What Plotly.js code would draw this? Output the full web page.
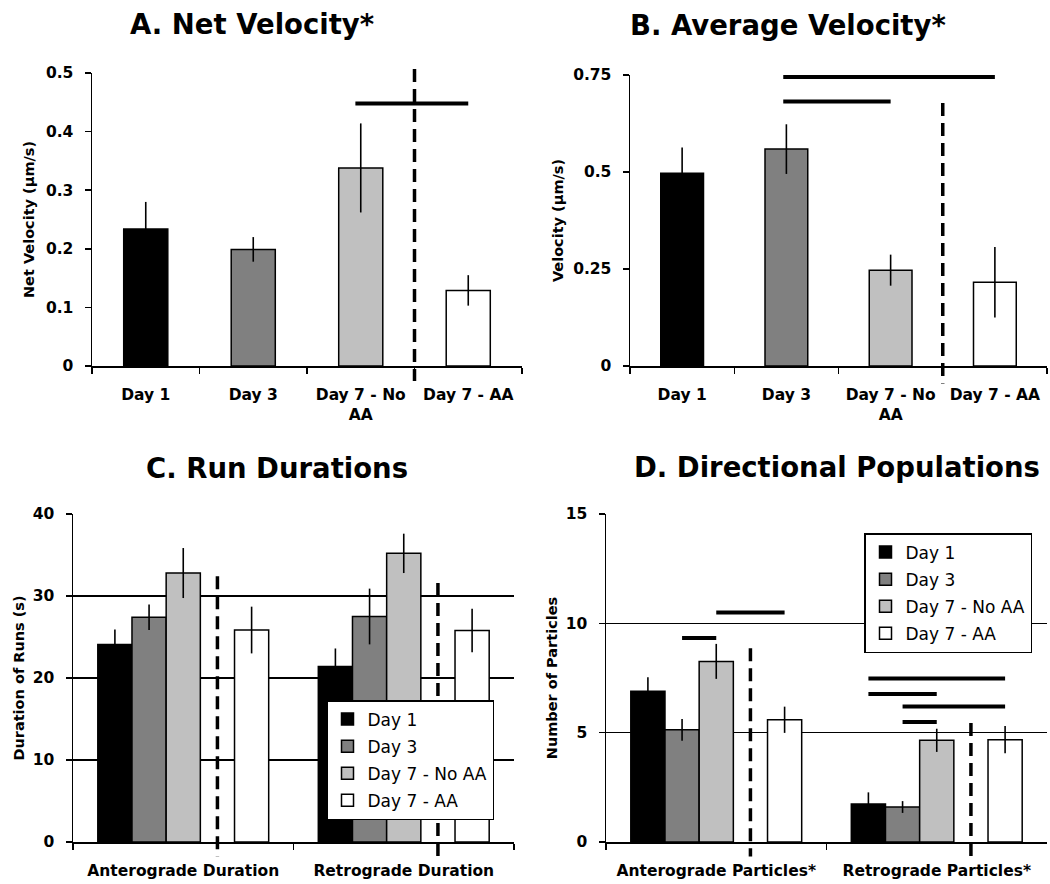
<!DOCTYPE html>
<html><head><meta charset="utf-8">
<script src="https://cdn.plot.ly/plotly-3.0.1.min.js"></script>
<style>html,body{margin:0;padding:0;background:#fff}#chart{width:1050px;height:884px}</style>
</head><body><div id="chart"></div>
<script>
// ---------- data ----------
const dayLabels = ['Day 1', 'Day 3', 'Day 7 - No AA', 'Day 7 - AA'];
const dayTickText = ['Day 1', 'Day 3', 'Day 7 - No<br>AA', 'Day 7 - AA'];

const netVelocity = [0.234, 0.199, 0.338, 0.129];
const netVelocityErr = [0.046, 0.021, 0.076, 0.026];

const avgVelocity = [0.497, 0.559, 0.247, 0.216];
const avgVelocityErr = [0.066, 0.064, 0.040, 0.091];

const durationCats = ['Anterograde Duration', 'Retrograde Duration'];
const durDay1 = [24.1, 21.4];
const durDay1Err = [1.8, 2.2];
const durDay3 = [27.4, 27.5];
const durDay3Err = [1.55, 3.4];
const durDay7NoAA = [32.8, 35.2];
const durDay7NoAAErr = [3.05, 2.4];
const durDay7AA = [25.85, 25.8];
const durDay7AAErr = [2.85, 2.65];

const particleCats = ['Anterograde Particles*', 'Retrograde Particles*'];
const partDay1 = [6.89, 1.74];
const partDay1Err = [0.65, 0.53];
const partDay3 = [5.13, 1.6];
const partDay3Err = [0.5, 0.27];
const partDay7NoAA = [8.26, 4.65];
const partDay7NoAAErr = [0.8, 0.53];
const partDay7AA = [5.59, 4.68];
const partDay7AAErr = [0.6, 0.62];

// significance bars: [category index, from bar, to bar, y]
const sigA = [[0, 2, 3, 0.448]];
const sigB = [[0, 1, 3, 0.745], [0, 1, 2, 0.682]];
const sigD = [[0, 1, 2, 9.33], [0, 2, 3, 10.5], [1, 0, 3, 7.48], [1, 0, 2, 6.77], [1, 1, 3, 6.2], [1, 1, 2, 5.49]];

// ---------- style ----------
const FONT = '"DejaVu Sans", Verdana, sans-serif';
const fills = ['#000000', '#808080', '#c0c0c0', '#ffffff'];
const outline = {color: '#000', width: 1.5};
const errStyle = (arr) => ({type: 'data', array: arr, visible: true, color: '#000', thickness: 1.6, width: 0});

const singleW = 0.41;
const slot = 0.155;
// slot positions (in slots, relative to group centre) for the four series; slot +1 is the gap
const slotPos = [-2, -1, 0, 2];

const traces = [];
traces.push({type: 'bar', x: dayLabels, y: netVelocity, width: singleW, xaxis: 'x', yaxis: 'y',
  marker: {color: fills, line: outline}, error_y: errStyle(netVelocityErr), showlegend: false});
traces.push({type: 'bar', x: dayLabels, y: avgVelocity, width: singleW, xaxis: 'x2', yaxis: 'y2',
  marker: {color: fills, line: outline}, error_y: errStyle(avgVelocityErr), showlegend: false});

const durSeries = [[durDay1, durDay1Err], [durDay3, durDay3Err], [durDay7NoAA, durDay7NoAAErr], [durDay7AA, durDay7AAErr]];
const partSeries = [[partDay1, partDay1Err], [partDay3, partDay3Err], [partDay7NoAA, partDay7NoAAErr], [partDay7AA, partDay7AAErr]];

durSeries.forEach((s, i) => traces.push({type: 'bar', name: dayLabels[i], x: durationCats, y: s[0],
  xaxis: 'x3', yaxis: 'y3', width: slot, offset: (slotPos[i] - 0.5) * slot,
  marker: {color: fills[i], line: outline}, error_y: errStyle(s[1]),
  legend: 'legend', legendgroup: 'c' + i}));
partSeries.forEach((s, i) => traces.push({type: 'bar', name: dayLabels[i], x: particleCats, y: s[0],
  xaxis: 'x4', yaxis: 'y4', width: slot, offset: (slotPos[i] - 0.5) * slot,
  marker: {color: fills[i], line: outline}, error_y: errStyle(s[1]),
  legend: 'legend2', legendgroup: 'd' + i}));

const W = 1050, H = 884;
const px = (a, b) => [a / W, b / W];
const py = (top, bottom) => [1 - bottom / H, 1 - top / H];

const tickFont = {family: FONT, size: 15.5, weight: 'bold', color: '#000'};
const titleFont = {family: FONT, size: 14.5, weight: 'bold', color: '#000'};

function xax(domain, anchor, cats, tt) {
  return {domain: domain, anchor: anchor, type: 'category', showline: true, linecolor: '#000', linewidth: 1.5,
    ticks: 'outside', tickson: 'boundaries', ticklen: 6, tickwidth: 1.5, tickcolor: '#000',
    tickmode: 'array', tickvals: cats, ticktext: tt || cats, ticklabelstandoff: 14,
    tickfont: tickFont, showgrid: false, zeroline: false, fixedrange: true};
}
function yax(domain, anchor, range, dtick, title, grid, standoff) {
  return {domain: domain, anchor: anchor, range: range, dtick: dtick, showline: true, linecolor: '#000', linewidth: 1.5,
    ticks: 'outside', ticklen: 6, tickwidth: 1.5, tickcolor: '#000', tickfont: tickFont, ticklabelstandoff: 8,
    showgrid: !!grid, gridcolor: '#000', gridwidth: 1.5, zeroline: false,
    title: {text: title, font: titleFont, standoff: standoff}, fixedrange: true};
}

const shapes = [];
function hline(xa, ya, x0, x1, y) {
  shapes.push({type: 'line', xref: xa, yref: ya, x0: x0, x1: x1, y0: y, y1: y, line: {color: '#000', width: 4}});
}
// dashed separator drawn from its top end downwards
function dashV(xa, ya, x, yTop, yBottom) {
  shapes.push({type: 'line', xref: xa, yref: ya + ' domain', x0: x, x1: x, y0: yTop, y1: yBottom,
    line: {color: '#000', width: 3.5, dash: '13px,7px'}});
}
sigA.forEach(s => hline('x', 'y', s[1] - 0.05, s[2], s[3]));
sigB.forEach(s => hline('x2', 'y2', s[1] - 0.03, s[2], s[3]));
sigD.forEach(s => hline('x4', 'y4', s[0] + slotPos[s[1]] * slot, s[0] + slotPos[s[2]] * slot, s[3]));
dashV('x', 'y', 2.5, 1.014, -0.051);
dashV('x2', 'y2', 2.5, 0.904, -0.06);
dashV('x3', 'y3', slot, 0.81, -0.044);
dashV('x3', 'y3', 1 + slot, 0.79, -0.044);
dashV('x4', 'y4', slot, 0.591, -0.044);
dashV('x4', 'y4', 1 + slot, 0.363, -0.044);

const panelTitles = [['A. Net Velocity*', 252, 24], ['B. Average Velocity*', 788, 25], ['C. Run Durations', 277, 468], ['D. Directional Populations', 837, 467]];
const annotations = panelTitles.map(t => ({text: t[0], xref: 'paper', yref: 'paper', x: t[1] / W, y: 1 - t[2] / H,
  xanchor: 'center', yanchor: 'middle', showarrow: false, font: {family: FONT, size: 27.5, weight: 'bold', color: '#000'}}));

const legendBase = {bordercolor: '#000', borderwidth: 1.5, bgcolor: '#fff', xanchor: 'left', yanchor: 'top',
  font: {family: FONT, size: 17, color: '#000'}, tracegroupgap: 2, itemwidth: 30};

const layout = {
  width: W, height: H, margin: {l: 0, r: 0, t: 0, b: 0}, paper_bgcolor: '#fff', plot_bgcolor: '#fff',
  barmode: 'overlay', font: {family: FONT, color: '#000'},
  xaxis: xax(px(92, 522), 'y', dayLabels, dayTickText),
  yaxis: yax(py(73, 366), 'x', [0, 0.5], 0.1, 'Net Velocity (µm/s)', false, 8),
  xaxis2: xax(px(630, 1047), 'y2', dayLabels, dayTickText),
  yaxis2: yax(py(75, 366), 'x2', [0, 0.75], 0.25, 'Velocity (µm/s)', false, 6),
  xaxis3: xax(px(73, 514), 'y3', durationCats),
  yaxis3: yax(py(514, 842), 'x3', [0, 40], 10, 'Duration of Runs (s)', true, 4),
  xaxis4: xax(px(606, 1047), 'y4', particleCats),
  yaxis4: yax(py(514, 842), 'x4', [0, 15], 5, 'Number of Particles', true, 4),
  legend: Object.assign({}, legendBase, {x: 326 / W, y: 1 - 700 / H}),
  legend2: Object.assign({}, legendBase, {x: 864 / W, y: 1 - 533 / H}),
  shapes: shapes, annotations: annotations
};

Plotly.newPlot('chart', traces, layout, {displayModeBar: false, staticPlot: true});
</script></body></html>
